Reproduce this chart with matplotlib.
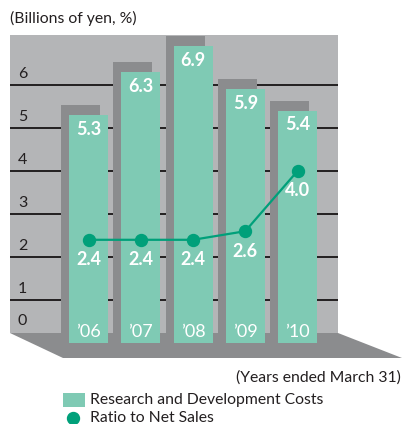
import matplotlib
matplotlib.use("Agg")
import matplotlib.pyplot as plt
from matplotlib.patches import Rectangle, Polygon
from matplotlib.transforms import ScaledTranslation, blended_transform_factory

# ---- data ----
years = ["\u201906", "\u201907", "\u201908", "\u201909", "\u201910"]
rd_costs = [5.3, 6.3, 6.9, 5.9, 5.4]
ratio = [2.4, 2.4, 2.4, 2.6, 4.0]
yticks = [0, 1, 2, 3, 4, 5, 6]

# ---- style ----
W, H = 403, 424
DPI = 100
BAR_C = "#7fcab4"
PANEL_C = "#b4b5b7"
SHADOW_C = "#8b8c8e"
FLOOR_C = "#8b8c8e"
LINE_C = "#00a07a"
GRID_C = "#231f20"
TEXT_C = "#231f20"
FONT = ["Lato", "DejaVu Sans"]
plt.rcParams["font.family"] = FONT

fig = plt.figure(figsize=(W / DPI, H / DPI), dpi=DPI)

def fx(x):
    return x / W

def fy(y):
    return 1 - y / H

unit = 43.0
pitch = 52.25
y0 = 343
ax_left = 88.5 - 0.5 * pitch
ax_w = 5 * pitch
ylim_top = 7.0
ax_h = ylim_top * unit
ax = fig.add_axes([fx(ax_left), 1 - y0 / H, ax_w / W, ax_h / H])
ax.set_xlim(-0.5, 4.5)
ax.set_ylim(0, ylim_top)
ax.axis("off")

ft = fig.transFigure
blend = blended_transform_factory(ft, ax.transData)

# back panel
ax.add_patch(Rectangle((fx(10), fy(333)), fx(338) - fx(10), fy(35) - fy(333),
                       transform=ft, facecolor=PANEL_C, edgecolor="none",
                       clip_on=False, zorder=0))
# gridlines
ax.hlines([t for t in yticks if t > 0], fx(10), fx(338), transform=blend,
          colors=GRID_C, linewidth=1.4, zorder=1, clip_on=False)

# y tick labels
for t in yticks:
    off = 15 if t == 0 else 4
    ax.annotate(str(t), (fx(18), t), xycoords=blend, xytext=(0, off),
                textcoords="offset pixels", ha="left", va="bottom",
                fontsize=11.5, color=TEXT_C, zorder=5, annotation_clip=False)

# shadow bars
x = list(range(len(years)))
bw = 39 / pitch
shadow_tr = ax.transData + ScaledTranslation(-8 / DPI, 10 / DPI, fig.dpi_scale_trans)
ax.bar(x, rd_costs, width=bw, color=SHADOW_C, transform=shadow_tr, zorder=2,
       clip_on=False)

# floor
ax.add_patch(Polygon([(fx(10), fy(333)), (fx(338), fy(333)), (fx(402), fy(358)),
                      (fx(63), fy(358))], closed=True, transform=ft,
                     facecolor=FLOOR_C, edgecolor="none", clip_on=False, zorder=3))

# front bars
ax.bar(x, rd_costs, width=bw, color=BAR_C, zorder=4, clip_on=False)

# line
ax.plot(x, ratio, color=LINE_C, linewidth=1.6, marker="o", markersize=8.6,
        zorder=6, clip_on=False)

for xi, v in zip(x, rd_costs):
    ax.annotate(f"{v:.1f}", (xi, v), xytext=(0, -14), textcoords="offset pixels",
                ha="center", va="center", fontsize=13, fontweight="bold",
                color="white", zorder=7, annotation_clip=False)
for xi, v in zip(x, ratio):
    ax.annotate(f"{v:.1f}", (xi, v), xytext=(0, -20), textcoords="offset pixels",
                ha="center", va="center", fontsize=13, fontweight="bold",
                color="white", zorder=7, annotation_clip=False)
for xi, lab in zip(x, years):
    ax.annotate(lab, (xi, 0), xytext=(0, 11), textcoords="offset pixels",
                ha="center", va="center", fontsize=13,
                color="white", zorder=7, annotation_clip=False)

# texts
fig.text(fx(10), fy(18), "(Billions of yen, %)", ha="left", va="center",
         fontsize=11.3, color=TEXT_C)
fig.text(fx(401), fy(378), "(Years ended March 31)", ha="right", va="center",
         fontsize=11.3, color=TEXT_C)

# legend
fig.patches.append(Rectangle((fx(63), fy(407)), fx(85) - fx(63), fy(393) - fy(407),
                             transform=ft, facecolor=BAR_C, edgecolor="none"))
fig.lines.append(plt.Line2D([fx(73)], [fy(418)], transform=ft, marker="o",
                            markersize=8.6, color=LINE_C, linestyle="none"))
fig.text(fx(90), fy(400), "Research and Development Costs", ha="left",
         va="center", fontsize=11.3, color=TEXT_C)
fig.text(fx(90), fy(418), "Ratio to Net Sales", ha="left", va="center",
         fontsize=11.3, color=TEXT_C)

fig.savefig("out.png", dpi=DPI)
